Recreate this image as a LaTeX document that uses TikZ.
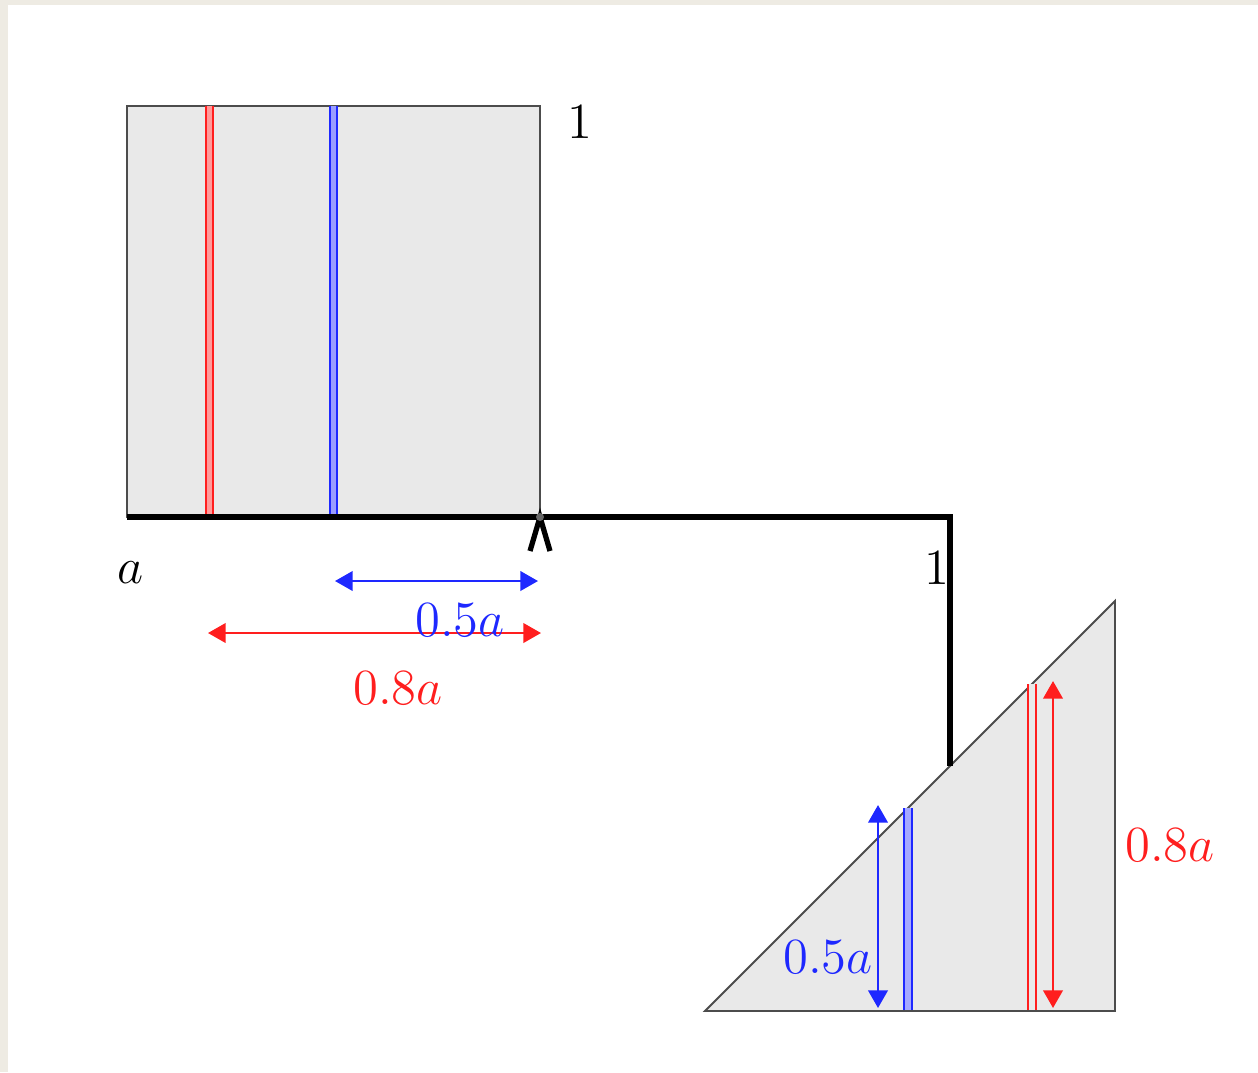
\documentclass[tikz,border=0pt]{standalone}
\usetikzlibrary{arrows.meta}
\definecolor{frame}{RGB}{238,235,227}
\definecolor{shade}{RGB}{233,233,233}
\definecolor{myred}{RGB}{255,30,30}
\definecolor{myblue}{RGB}{30,40,255}
\begin{document}
\begin{tikzpicture}[x=0.01cm,y=-0.01cm,
  figbox/.style={draw=black!70,line width=0.55pt,fill=shade},
  beam/.style={line width=1.7pt,black},
  dim/.style={line width=0.75pt,{Triangle[length=5pt,width=5.5pt]}-{Triangle[length=5pt,width=5.5pt]}},
  lbl/.style={inner sep=0pt,font=\fontsize{15.5}{18}\selectfont},
  dbl/.style={line width=0.6pt,double distance=1.6pt}]
\useasboundingbox (0,0) rectangle (1258,1072);
\fill[white] (0,0) rectangle (1258,1072);
\fill[frame] (0,0) rectangle (1258,5);
\fill[frame] (0,0) rectangle (8,1072);
% coordinates
\coordinate (R1) at (127,106);
\coordinate (R2) at (540,517);
\coordinate (B0) at (127,517);
\coordinate (P) at (540,517);
\coordinate (C) at (950,517);
\coordinate (H) at (950,766);
\coordinate (T1) at (705,1011);
\coordinate (T2) at (1115,1011);
\coordinate (T3) at (1115,601);
% square
\draw[figbox] (R1) rectangle (R2);
\coordinate (rr1) at (209.5,106); \coordinate (rr2) at (209.5,516);
\coordinate (rb1) at (333.5,106); \coordinate (rb2) at (333.5,516);
\draw[dbl,myred,double=myred!45] (rr1) -- (rr2);
\draw[dbl,myblue,double=myblue!45] (rb1) -- (rb2);
% triangle
\draw[figbox] (T1) -- (T2) -- (T3) -- cycle;
\coordinate (tb1) at (908,1010); \coordinate (tb2) at (908,808);
\coordinate (tr1) at (1032,1010); \coordinate (tr2) at (1032,684);
\draw[dbl,myblue,double=myblue!40] (tb1) -- (tb2);
\draw[dbl,myred,double=shade] (tr1) -- (tr2);
% beam
\draw[beam,line join=miter] (B0) -- (C) -- (H);
\coordinate (L1) at (530,551); \coordinate (L2) at (550,551);
\draw[line width=1.5pt] (L1) -- (P) -- (L2);
\fill[black!60] (P) circle (4);
% dimension arrows
\coordinate (ba1) at (335,581); \coordinate (ba2) at (538,581);
\coordinate (ra1) at (208,633); \coordinate (ra2) at (541,633);
\coordinate (bv1) at (878,1008); \coordinate (bv2) at (878,805);
\coordinate (rv1) at (1053,1008); \coordinate (rv2) at (1053,681);
\draw[dim,myblue] (ba1) -- (ba2);
\draw[dim,myred] (ra1) -- (ra2);
\draw[dim,myblue] (bv1) -- (bv2);
\draw[dim,myred] (rv1) -- (rv2);
% labels
\node[lbl] (one1) at (580,122) {$1$};
\node[lbl] (la) at (131,573) {$a$};
\node[lbl,myblue] (l05a) at (460,620) {$0.5a$};
\node[lbl,myred] (l08a) at (398,688) {$0.8a$};
\node[lbl] (one2) at (937,568) {$1$};
\node[lbl,myblue] (l05b) at (828,957) {$0.5a$};
\node[lbl,myred] (l08b) at (1170,845) {$0.8a$};
\end{tikzpicture}
\end{document}
